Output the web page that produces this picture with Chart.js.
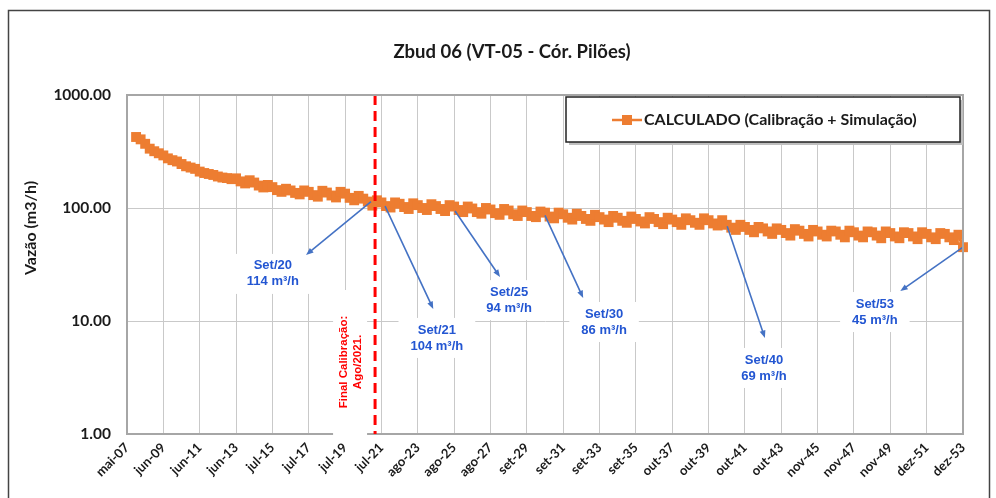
<!DOCTYPE html>
<html>
<head>
<meta charset="utf-8">
<script src="https://cdn.jsdelivr.net/npm/chart.js@4/dist/chart.umd.min.js"></script>
<style>
    html, body { margin: 0; padding: 0; background: #fff; }
    #wrap { width: 996px; height: 498px; }
</style>
</head>
<body>
<div id="wrap"><canvas id="vazaoChart" width="996" height="498"></canvas></div>
<script>
// Tick labels on the x axis (one every 8 quarterly points)
const tickLabels = ['mai-07', 'jun-09', 'jun-11', 'jun-13', 'jul-15', 'jul-17', 'jul-19', 'jul-21',
    'ago-23', 'ago-25', 'ago-27', 'set-29', 'set-31', 'set-33', 'set-35', 'out-37', 'out-39',
    'out-41', 'out-43', 'nov-45', 'nov-47', 'nov-49', 'dez-51', 'dez-53'];
const pointsPerTick = 8;

// Vazão calculada (m3/h), one value per quarter
const vazao = [
    null, null, 425, 405, 370, 335, 318, 305,
    292, 275, 265, 258, 245, 234, 228, 222,
    210, 204, 200, 196, 190, 186, 184, 180,
    183, 172, 165, 176, 168, 158, 152, 160,
    153, 144, 139, 148, 143, 136, 132, 143,
    139, 130, 126, 142, 137, 129, 124, 139,
    134, 123, 117, 128, 121, 114, 105, 117,
    112, 104, 101, 112, 109, 102, 98, 110,
    106, 100, 96, 108, 104, 98, 94, 106,
    103, 96, 92, 103, 99, 92, 89, 100,
    97, 90, 87, 98, 95, 88, 85, 95,
    92, 85, 83, 93, 91, 84, 81, 91,
    88, 82, 79, 89, 85, 80, 77, 87,
    83, 79, 75, 85, 82, 77, 74, 84,
    80, 76, 73, 83, 80, 75, 72, 82,
    79, 75, 71, 81, 78, 74, 71, 81,
    78, 73, 70, 78, 71, 67, 64, 71,
    68, 64, 61, 68, 66, 62, 59, 66,
    64, 60, 57, 65, 63, 59, 56, 64,
    62, 58, 56, 63, 62, 58, 55, 63,
    61, 57, 55, 62, 61, 57, 54, 62,
    60, 56, 54, 61, 60, 56, 53, 61,
    59, 55, 53, 60, 59, 55, 52, 58,
    45
];

const yTickValues = [1, 10, 100, 1000];

// Callouts: where the arrow starts (point), where it points, and where the text sits
const annLabels = ['Set/20', 'Set/21', 'Set/25', 'Set/30', 'Set/40', 'Set/53'];
const annValues = [114, 104, 94, 86, 69, 45];
const annAt = [53.7, 56.8, 72.2, 92.0, 132.1, 184];
const annTipAt = [39.4, 67.4, 82.1, 100.4, 140.4, 170.2];
const annTipValue = [38.4, 12.8, 24.5, 16.0, 7.08, 18.4];
const annTextAt = [32.1, 68.2, 84.1, 105.0, 140.2, 164.6];
const annTextValue = [26.1, 7.08, 15.3, 9.8, 3.84, 12.0];

// End of calibration marker
const calibAt = 54.6;
const calibText = ['Final Calibração:', 'Ago/2021.'];

const seriesLabel = 'CALCULADO (Calibração + Simulação)';
const chartTitle = 'Zbud 06 (VT-05 - Cór. Pilões)';
const yTitle = 'Vazão (m3/h)';

const xLabels = vazao.map((_, i) => i % pointsPerTick === 0 ? tickLabels[i / pointsPerTick] : '');

const ORANGE = '#ED7D31';
const GRID = '#c9c9c9';
const BLUE_TXT = '#2356d2';
const BLUE_ARROW = '#4472C4';
const CALIBRI = 'Lato, "Open Sans", sans-serif';
const ARIAL = '"Liberation Sans", Arial, sans-serif';

function arrow(ctx, x1, y1, x2, y2) {
    const ang = Math.atan2(y2 - y1, x2 - x1);
    const head = 8;
    ctx.save();
    ctx.strokeStyle = BLUE_ARROW;
    ctx.fillStyle = BLUE_ARROW;
    ctx.lineWidth = 1.6;
    ctx.beginPath();
    ctx.moveTo(x1, y1);
    ctx.lineTo(x2 - Math.cos(ang) * head * 0.8, y2 - Math.sin(ang) * head * 0.8);
    ctx.stroke();
    ctx.beginPath();
    ctx.moveTo(x2, y2);
    ctx.lineTo(x2 - head * Math.cos(ang - 0.38), y2 - head * Math.sin(ang - 0.38));
    ctx.lineTo(x2 - head * Math.cos(ang + 0.38), y2 - head * Math.sin(ang + 0.38));
    ctx.closePath();
    ctx.fill();
    ctx.restore();
}

// Callouts, calibration line, legend and titles
const overlay = {
    id: 'overlay',
    beforeDatasetsDraw(chart) {
        const { ctx, scales: { x, y }, chartArea } = chart;
        ctx.save();
        ctx.fillStyle = '#fff';
        ctx.font = 'bold 13px ' + ARIAL;
        annLabels.forEach((lab, i) => {
            const cx = x.getPixelForValue(annTextAt[i]);
            const cy = y.getPixelForValue(annTextValue[i]);
            const t2 = annValues[i] + ' m³/h';
            const w = Math.max(ctx.measureText(lab).width, ctx.measureText(t2).width) + 24;
            const h = 40;
            ctx.fillRect(cx - w / 2, cy - h / 2, w, h);
        });
        const cxl = x.getPixelForValue(calibAt);
        ctx.fillRect(cxl - 42, 290, 34, chartArea.bottom - 290 + 3);
        ctx.restore();
    },
    afterDatasetsDraw(chart) {
        const { ctx, scales: { x, y }, chartArea } = chart;
        // calibration line
        const cxl = x.getPixelForValue(calibAt);
        ctx.save();
        ctx.strokeStyle = '#ff0000';
        ctx.lineWidth = 3;
        ctx.setLineDash([10, 6]);
        ctx.beginPath();
        ctx.moveTo(cxl, chartArea.top);
        ctx.lineTo(cxl, chartArea.bottom);
        ctx.stroke();
        ctx.setLineDash([]);
        ctx.translate(cxl - 24, 362);
        ctx.rotate(-Math.PI / 2);
        ctx.fillStyle = '#ff0000';
        ctx.font = 'bold 11.5px ' + ARIAL;
        ctx.textAlign = 'center';
        ctx.textBaseline = 'middle';
        ctx.fillText(calibText[0], 0, -7);
        ctx.fillText(calibText[1], 0, 7);
        ctx.restore();

        // callouts
        annLabels.forEach((lab, i) => {
            arrow(ctx, x.getPixelForValue(annAt[i]), y.getPixelForValue(annValues[i]),
                x.getPixelForValue(annTipAt[i]), y.getPixelForValue(annTipValue[i]));
            const cx = x.getPixelForValue(annTextAt[i]);
            const cy = y.getPixelForValue(annTextValue[i]);
            ctx.save();
            ctx.fillStyle = BLUE_TXT;
            ctx.font = 'bold 13px ' + ARIAL;
            ctx.textAlign = 'center';
            ctx.textBaseline = 'middle';
            ctx.fillText(lab, cx, cy - 8);
            ctx.fillText(annValues[i] + ' m³/h', cx, cy + 8);
            ctx.restore();
        });
    },
    afterDraw(chart) {
        const { ctx, chartArea } = chart;
        ctx.save();
        // top / right frame of the plot
        ctx.strokeStyle = '#a6a6a6';
        ctx.lineWidth = 2;
        ctx.beginPath();
        ctx.moveTo(chartArea.left, chartArea.top);
        ctx.lineTo(chartArea.right, chartArea.top);
        ctx.lineTo(chartArea.right, chartArea.bottom);
        ctx.stroke();

        // title
        ctx.fillStyle = '#1a1a1a';
        ctx.font = 'bold 18.5px ' + CALIBRI;
        ctx.textAlign = 'center';
        ctx.textBaseline = 'middle';
        ctx.fillText(chartTitle, 512, 52);

        // y title
        ctx.save();
        ctx.translate(31, 228);
        ctx.rotate(-Math.PI / 2);
        ctx.font = 'bold 16px ' + CALIBRI;
        ctx.fillText(yTitle, 0, 0);
        ctx.restore();

        // legend box
        ctx.fillStyle = '#bfbfbf';
        ctx.fillRect(569, 100, 394, 45);
        ctx.fillStyle = '#fff';
        ctx.fillRect(566, 97, 394, 45);
        ctx.strokeStyle = '#222';
        ctx.lineWidth = 1.5;
        ctx.strokeRect(566, 97, 394, 45);
        ctx.strokeStyle = ORANGE;
        ctx.lineWidth = 2.5;
        ctx.beginPath();
        ctx.moveTo(612, 120);
        ctx.lineTo(642, 120);
        ctx.stroke();
        ctx.fillStyle = ORANGE;
        ctx.fillRect(622, 115, 10, 10);
        ctx.fillStyle = '#1a1a1a';
        ctx.font = 'bold 16px ' + CALIBRI;
        ctx.textAlign = 'left';
        ctx.fillText(seriesLabel, 644, 120);

        // outer frame
        ctx.strokeStyle = '#444';
        ctx.lineWidth = 1.5;
        ctx.beginPath();
        ctx.moveTo(8.5, 505);
        ctx.lineTo(8.5, 10.5);
        ctx.lineTo(989.5, 10.5);
        ctx.lineTo(989.5, 505);
        ctx.stroke();
        ctx.restore();
    }
};

const ctxVazao = document.getElementById('vazaoChart').getContext('2d');
const vazaoChart = new Chart(ctxVazao, {
    type: 'line',
    data: {
        labels: xLabels,
        datasets: [{
            label: seriesLabel,
            data: vazao,
            borderColor: ORANGE,
            backgroundColor: ORANGE,
            borderWidth: 3,
            pointStyle: 'rect',
            pointRadius: 7,
            pointBorderWidth: 0,
            pointBackgroundColor: ORANGE,
            tension: 0
        }]
    },
    options: {
        responsive: false,
        animation: false,
        devicePixelRatio: 1,
        layout: { padding: { left: 10, top: 95, right: 33, bottom: 0 } },
        plugins: {
            legend: { display: false },
            title: { display: false },
            tooltip: { enabled: false }
        },
        scales: {
            x: {
                type: 'category',
                offset: false,
                grid: {
                    color: c => (c.index % pointsPerTick === 0 ? GRID : 'rgba(0,0,0,0)'),
                    lineWidth: 1,
                    drawTicks: false
                },
                border: { display: true, color: '#a6a6a6', width: 2 },
                ticks: {
                    autoSkip: false,
                    maxRotation: 45,
                    minRotation: 45,
                    padding: 6,
                    color: '#1a1a1a',
                    font: { family: CALIBRI, weight: 'bold', size: 13 }
                },
                afterFit: s => { s.height = 64; }
            },
            y: {
                type: 'logarithmic',
                min: 1,
                max: 1000,
                afterBuildTicks: s => { s.ticks = yTickValues.map(v => ({ value: v })); },
                grid: { color: GRID, lineWidth: 1, drawTicks: false },
                border: { display: true, color: '#a6a6a6', width: 2 },
                ticks: {
                    padding: 16,
                    color: '#1a1a1a',
                    font: { family: CALIBRI, weight: 'bold', size: 15.5 },
                    callback: v => Number(v).toFixed(2)
                },
                afterFit: s => { s.width = 117; }
            }
        }
    },
    plugins: [overlay]
});
</script>
</body>
</html>
